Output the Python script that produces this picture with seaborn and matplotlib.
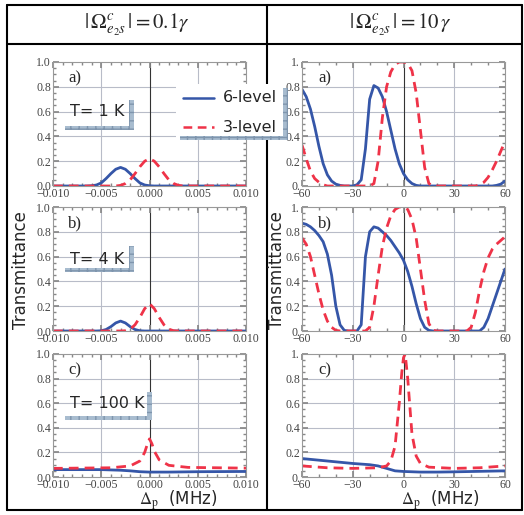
import matplotlib
matplotlib.use("Agg")
import matplotlib.pyplot as plt
import numpy as np
import seaborn as sns
from matplotlib.lines import Line2D
from matplotlib.patches import Rectangle
from matplotlib.ticker import MultipleLocator, FixedFormatter, FixedLocator

# ---- data: left column (|Omega| = 0.1 gamma) ----
la_blue_x = [-0.010, -0.0065, -0.006, -0.0055, -0.005, -0.0045, -0.004, -0.0035, -0.003,
             -0.0025, -0.002, -0.0015, -0.001, -0.0005, 0.0, 0.0005, 0.010]
la_blue_y = [0, 0, 0.002, 0.008, 0.025, 0.06, 0.10, 0.135, 0.15,
             0.135, 0.10, 0.06, 0.025, 0.008, 0.002, 0, 0]
la_red_x = [-0.010, -0.0035, -0.003, -0.0025, -0.002, -0.0015, -0.001, -0.0005, 0.0,
            0.0005, 0.001, 0.0015, 0.002, 0.0025, 0.003, 0.0035, 0.010]
la_red_y = [0, 0, 0.005, 0.02, 0.05, 0.10, 0.155, 0.20, 0.22,
            0.20, 0.155, 0.10, 0.05, 0.02, 0.005, 0, 0]

lb_blue_x = [-0.010, -0.0055, -0.005, -0.0045, -0.004, -0.0035, -0.003,
             -0.0025, -0.002, -0.0015, -0.001, -0.0005, 0.010]
lb_blue_y = [0, 0, 0.002, 0.012, 0.035, 0.065, 0.08,
             0.065, 0.035, 0.012, 0.002, 0, 0]
lb_red_x = [-0.010, -0.003, -0.0025, -0.002, -0.0015, -0.001, -0.0005, 0.0,
            0.0005, 0.001, 0.0015, 0.002, 0.0025, 0.003, 0.010]
lb_red_y = [0, 0, 0.002, 0.015, 0.05, 0.11, 0.18, 0.22,
            0.18, 0.11, 0.05, 0.015, 0.002, 0, 0]

lc_blue_x = [-0.010, -0.005, -0.003, -0.002, -0.001, 0.0, 0.002, 0.005, 0.010]
lc_blue_y = [0.06, 0.06, 0.055, 0.05, 0.043, 0.04, 0.04, 0.043, 0.045]
lc_red_x = [-0.010, -0.004, -0.002, -0.001, -0.0005, -0.00025, 0.0,
            0.00025, 0.0005, 0.001, 0.002, 0.004, 0.010]
lc_red_y = [0.07, 0.075, 0.09, 0.13, 0.20, 0.26, 0.31,
            0.27, 0.21, 0.14, 0.095, 0.078, 0.072]

# ---- data: right column (|Omega| = 10 gamma) ----
r_x = [-60, -57.5, -55, -52.5, -50, -47.5, -45, -42.5, -40, -37.5, -35, -32.5, -30,
       -27.5, -25, -22.5, -20, -17.5, -15, -12.5, -10, -7.5, -5, -2.5, 0,
       2.5, 5, 7.5, 10, 12.5, 15, 17.5, 20, 22.5, 25, 27.5, 30, 32.5, 35,
       37.5, 40, 42.5, 45, 47.5, 50, 52.5, 55, 57.5, 60]
ra_blue_y = [0.78, 0.72, 0.62, 0.48, 0.32, 0.18, 0.09, 0.04, 0.015, 0.005, 0, 0, 0,
             0.01, 0.05, 0.30, 0.70, 0.81, 0.79, 0.72, 0.60, 0.45, 0.30, 0.18, 0.10,
             0.05, 0.02, 0.005, 0, 0, 0, 0, 0, 0, 0, 0, 0, 0, 0,
             0, 0, 0, 0, 0, 0, 0, 0.005, 0.015, 0.04]
ra_red_y = [0.33, 0.22, 0.12, 0.06, 0.03, 0.01, 0, 0, 0, 0, 0, 0, 0,
            0, 0, 0, 0, 0.02, 0.20, 0.55, 0.80, 0.92, 0.98, 1.0, 1.0,
            0.99, 0.93, 0.75, 0.45, 0.15, 0.02, 0, 0, 0, 0, 0, 0, 0, 0,
            0, 0, 0, 0.01, 0.03, 0.07, 0.13, 0.20, 0.28, 0.36]
rb_blue_y = [0.87, 0.86, 0.84, 0.81, 0.77, 0.72, 0.62, 0.45, 0.20, 0.05, 0.005, 0, 0,
             0, 0.05, 0.60, 0.80, 0.84, 0.83, 0.80, 0.77, 0.73, 0.68, 0.63, 0.57,
             0.48, 0.36, 0.22, 0.10, 0.03, 0.005, 0, 0, 0, 0, 0, 0, 0, 0,
             0, 0, 0, 0, 0.03, 0.10, 0.20, 0.30, 0.40, 0.50]
rb_red_y = [0.75, 0.70, 0.60, 0.45, 0.30, 0.17, 0.08, 0.03, 0.005, 0, 0, 0, 0,
            0, 0, 0, 0.03, 0.20, 0.45, 0.68, 0.83, 0.93, 0.98, 1.0, 1.0,
            0.98, 0.90, 0.75, 0.50, 0.25, 0.06, 0.005, 0, 0, 0, 0, 0, 0, 0,
            0, 0.03, 0.15, 0.33, 0.48, 0.59, 0.66, 0.70, 0.73, 0.76]
rc_blue_x = [-60, -45, -30, -20, -15, -10, -5, 0, 10, 20, 30, 45, 60]
rc_blue_y = [0.15, 0.13, 0.11, 0.10, 0.09, 0.07, 0.05, 0.045, 0.04, 0.04, 0.042, 0.046, 0.05]
rc_red_x = [-60, -45, -30, -15, -10, -7.5, -5, -2.5, -1, 0, 1, 2.5, 5, 7.5, 10, 15, 30, 45, 60]
rc_red_y = [0.09, 0.075, 0.07, 0.075, 0.09, 0.13, 0.25, 0.60, 0.85, 0.97, 1.0, 0.80, 0.35,
            0.17, 0.11, 0.08, 0.07, 0.075, 0.09]

panel_labels = ["a)", "b)", "c)"]
temp_labels = ["T= 1 K", "T= 4 K", "T= 100 K"]
header_left = r"$|\,\Omega^{c}_{e_2 s}\,| = 0.1\gamma$"
header_right = r"$|\,\Omega^{c}_{e_2 s}\,| = 10\,\gamma$"

BLUE = "#3556a8"
RED = "#ef3348"
SHADOW = "#a8bccf"

sns.set_theme(style="ticks")
plt.rcParams["font.family"] = ["DejaVu Sans"]
plt.rcParams["mathtext.fontset"] = "stix"

W, H = 524, 515
fig = plt.figure(figsize=(W / 100, H / 100), dpi=100)


def fx(px):
    return px / W


def fy(py):
    return 1 - py / H


def style_axis(ax, left):
    for s in ax.spines.values():
        s.set_color("#999999")
        s.set_linewidth(0.8)
    ax.set_ylim(0, 1)
    ax.yaxis.set_major_locator(FixedLocator([0, 0.2, 0.4, 0.6, 0.8, 1.0]))
    ax.yaxis.set_minor_locator(MultipleLocator(0.05))
    if left:
        ax.set_xlim(-0.010, 0.010)
        ax.xaxis.set_major_locator(FixedLocator([-0.010, -0.005, 0, 0.005, 0.010]))
        ax.xaxis.set_major_formatter(FixedFormatter(["\u22120.010", "\u22120.005", "0.000", "0.005", "0.010"]))
        ax.xaxis.set_minor_locator(MultipleLocator(0.001))
        ax.yaxis.set_major_formatter(FixedFormatter(["0.0", "0.2", "0.4", "0.6", "0.8", "1.0"]))
        gx = [-0.005, 0.005]
    else:
        ax.set_xlim(-60, 60)
        ax.xaxis.set_major_locator(FixedLocator([-60, -30, 0, 30, 60]))
        ax.xaxis.set_major_formatter(FixedFormatter(["\u221260", "\u221230", "0", "30", "60"]))
        ax.xaxis.set_minor_locator(MultipleLocator(10))
        ax.yaxis.set_major_formatter(FixedFormatter(["0.", "0.2", "0.4", "0.6", "0.8", "1."]))
        gx = [-30, 30]
    for g in gx:
        ax.axvline(g, color="#b8bcc8", lw=0.8, zorder=0)
    for g in [0.2, 0.4, 0.6, 0.8]:
        ax.axhline(g, color="#b8bcc8", lw=0.8, zorder=0)
    ax.axvline(0, color="#333333", lw=0.8, zorder=0)
    ax.tick_params(which="both", direction="in", top=True, right=True,
                   color="#888888", labelsize=8.5, pad=1.5)
    ax.tick_params(which="major", length=4)
    ax.tick_params(which="minor", length=2)
    for lab in ax.get_xticklabels() + ax.get_yticklabels():
        lab.set_fontfamily("Liberation Serif")
        lab.set_color("#444444")
    ax.set_xlabel("")
    ax.set_ylabel("")


rows = [(62, 186), (207, 331), (354, 477)]
left_data = [(la_blue_x, la_blue_y, la_red_x, la_red_y),
             (lb_blue_x, lb_blue_y, lb_red_x, lb_red_y),
             (lc_blue_x, lc_blue_y, lc_red_x, lc_red_y)]
right_data = [(r_x, ra_blue_y, r_x, ra_red_y),
              (r_x, rb_blue_y, r_x, rb_red_y),
              (rc_blue_x, rc_blue_y, rc_red_x, rc_red_y)]

for i, (top, bot) in enumerate(rows):
    for left, (x0, x1), data in [(True, (53, 246), left_data[i]), (False, (302, 505), right_data[i])]:
        ax = fig.add_axes([fx(x0), fy(bot), fx(x1 - x0), (bot - top) / H])
        bx, by, rx, ry = data
        sns.lineplot(x=bx, y=by, ax=ax, color=BLUE, lw=2, sort=False, estimator=None)
        sns.lineplot(x=rx, y=ry, ax=ax, color=RED, lw=2, sort=False, estimator=None,
                     linestyle=(0, (3.5, 2.2)))
        style_axis(ax, left)
        ax.text(0.08, 0.87, panel_labels[i], transform=ax.transAxes, fontsize=12,
                fontfamily="Liberation Serif", va="center")

# temperature boxes with L-shaped hatched shadow
temp_boxes = [(111, 100, 130, 65, 134), (260, 246, 272, 65, 134), (403, 392, 420, 65, 152)]
for lab, (ty, vtop, vbot, hl, hr) in zip(temp_labels, temp_boxes):
    fig.text(fx(70), fy(ty), lab, fontsize=11.5, va="center", ha="left")
    fig.add_artist(Rectangle((fx(hr - 5), fy(vbot)), fx(5), (vbot - vtop) / H,
                             facecolor=SHADOW, edgecolor="#7f95ad", hatch="++", lw=0))
    fig.add_artist(Rectangle((fx(hl), fy(vbot)), fx(hr - hl), 4 / H,
                             facecolor=SHADOW, edgecolor="#7f95ad", hatch="++", lw=0))

# table lines
for xs, ys in [((7, 522), (5, 5)), ((7, 522), (44, 44)), ((7, 522), (510, 510)),
               ((7, 7), (5, 510)), ((522, 522), (5, 510)), ((267, 267), (5, 510))]:
    fig.add_artist(Line2D([fx(xs[0]), fx(xs[1])], [fy(ys[0]), fy(ys[1])],
                          color="black", lw=1.5))

# legend with white box and hatched shadow
fig.add_artist(Rectangle((fx(176), fy(138)), fx(107), 54 / H, facecolor="white",
                         edgecolor="none", zorder=3))
fig.add_artist(Line2D([fx(183), fx(214)], [fy(98), fy(98)], color=BLUE, lw=1.8, zorder=4))
fig.add_artist(Line2D([fx(183), fx(214)], [fy(127), fy(127)], color=RED, lw=1.8,
                      linestyle=(0, (3.5, 2.2)), zorder=4))
fig.text(fx(223), fy(98), "6-level", fontsize=11.5, va="center", zorder=4)
fig.text(fx(223), fy(127), "3-level", fontsize=11.5, va="center", zorder=4)
fig.add_artist(Rectangle((fx(283), fy(140)), fx(5), 52 / H, facecolor=SHADOW,
                         edgecolor="#7f95ad", hatch="++", lw=0, zorder=4))
fig.add_artist(Rectangle((fx(180), fy(140)), fx(108), 4 / H, facecolor=SHADOW,
                         edgecolor="#7f95ad", hatch="++", lw=0, zorder=4))

fig.text(fx(137), fy(25), header_left, fontsize=15, ha="center", va="center")
fig.text(fx(400), fy(25), header_right, fontsize=15, ha="center", va="center")
fig.text(fx(21), fy(270), "Transmittance", rotation=90, fontsize=12, ha="center", va="center")
fig.text(fx(277), fy(270), "Transmittance", rotation=90, fontsize=12, ha="center", va="center")
fig.text(fx(178), fy(500), r"$\Delta_{\rm p}$  (MHz)", fontsize=12, ha="center", va="center")
fig.text(fx(440), fy(500), r"$\Delta_{\rm p}$  (MHz)", fontsize=12, ha="center", va="center")

fig.savefig("out.png", dpi=100)
